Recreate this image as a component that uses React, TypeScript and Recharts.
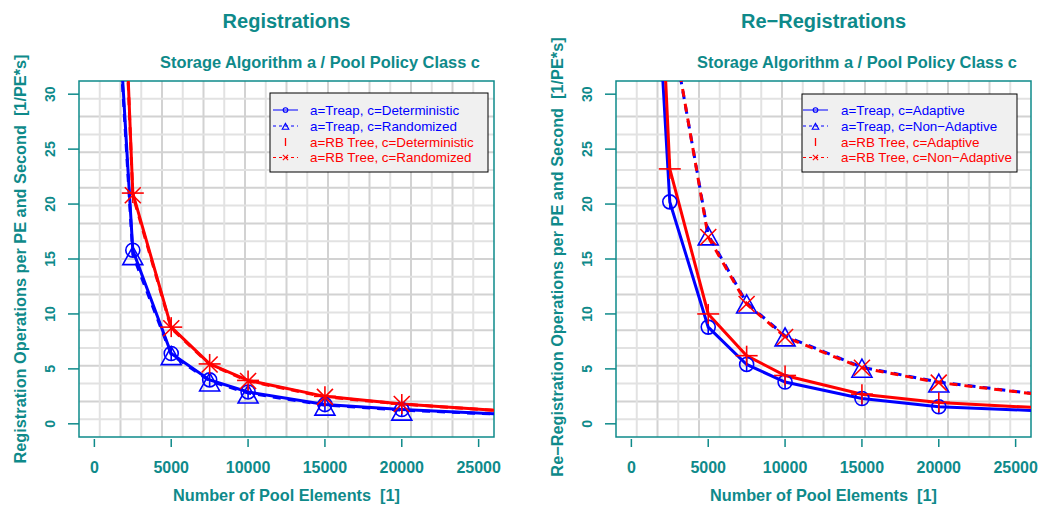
import React from 'react';
import { CartesianGrid, Line, LineChart, ReferenceArea, XAxis, YAxis } from 'recharts';

const TEAL = '#0e8a8a';
const BLUE = '#0000ff';
const RED = '#ff0000';
const FONT = '"Liberation Sans", Arial, Helvetica, sans-serif';

const POOL_ELEMENTS = [1000, 2500, 5000, 7500, 10000, 15000, 20000, 30000];
const MARKED_ELEMENTS = [2500, 5000, 7500, 10000, 15000, 20000];
const X_TICKS = [0, 5000, 10000, 15000, 20000, 25000];
const Y_TICKS = [0, 5, 10, 15, 20, 25, 30];
const X_DOMAIN: [number, number] = [-1000, 26000];
const Y_DOMAIN: [number, number] = [-1.2, 31.2];

// Registrations
const regTreapDeterministic = [51, 15.8, 6.4, 4.0, 2.9, 1.75, 1.3, 0.65];
const regTreapRandomized = [50, 15.4, 6.3, 3.9, 2.8, 1.7, 1.25, 0.65];
const regRBDeterministic = [73, 21.0, 8.8, 5.45, 3.95, 2.5, 1.8, 0.85];
const regRBRandomized = [72, 20.8, 8.7, 5.4, 3.9, 2.45, 1.8, 0.85];

// Re-Registrations
const reregTreapAdaptive = [57, 20.2, 8.8, 5.4, 3.8, 2.3, 1.55, 1.0];
const reregTreapNonAdaptive = [null, 37.0, 17.2, 11.0, 8.0, 5.15, 3.8, 2.1];
const reregRBAdaptive = [68, 23.2, 10.0, 6.2, 4.4, 2.7, 1.95, 1.2];
const reregRBNonAdaptive = [null, 37.2, 17.0, 10.9, 7.9, 5.1, 3.75, 2.1];

const REG_LABELS = [
  'a=Treap, c=Deterministic',
  'a=Treap, c=Randomized',
  'a=RB Tree, c=Deterministic',
  'a=RB Tree, c=Randomized',
];
const REREG_LABELS = [
  'a=Treap, c=Adaptive',
  'a=Treap, c=Non\u2212Adaptive',
  'a=RB Tree, c=Adaptive',
  'a=RB Tree, c=Non\u2212Adaptive',
];

type MarkerKind = 'circlePlus' | 'triangle' | 'plus' | 'cross';

type SeriesDef = {
  id: string;
  values: (number | null)[];
  color: string;
  dashed: boolean;
  marker: MarkerKind;
};

const PLOT = { left: 79, top: 81, width: 415, height: 356 };
const GRID_DIVISIONS = 20;

function gridLines(start: number, size: number, parity: number) {
  const out: number[] = [];
  for (let k = 1; k < GRID_DIVISIONS; k++) {
    if (k % 2 === parity) out.push(start + (k * size) / GRID_DIVISIONS);
  }
  return out;
}

function buildRows(series: SeriesDef[]) {
  return POOL_ELEMENTS.map((x, i) => {
    const row: Record<string, number | null> = { x };
    series.forEach((s) => {
      row[s.id] = s.values[i];
    });
    return row;
  });
}

function Marker({ kind, cx, cy, color, scale = 1 }: { kind: MarkerKind; cx: number; cy: number; color: string; scale?: number }) {
  const sw = scale === 1 ? 1.6 : 1.1;
  if (kind === 'circlePlus') {
    const r = 7 * scale;
    return (
      <g>
        <circle cx={cx} cy={cy} r={r} fill="none" stroke={color} strokeWidth={sw} />
        {scale === 1 && <line x1={cx} x2={cx} y1={cy - r} y2={cy + r} stroke={color} strokeWidth={sw} />}
      </g>
    );
  }
  if (kind === 'triangle') {
    const w = 10 * scale;
    return (
      <polygon
        points={`${cx},${cy - 8 * scale} ${cx - w},${cy + 10 * scale} ${cx + w},${cy + 10 * scale}`}
        fill="none"
        stroke={color}
        strokeWidth={sw}
      />
    );
  }
  if (kind === 'plus') {
    return (
      <g stroke={color} strokeWidth={sw}>
        <line x1={cx - 11 * scale} x2={cx + 11 * scale} y1={cy} y2={cy} />
        <line x1={cx} x2={cx} y1={cy - 10 * scale} y2={cy + 10 * scale} />
      </g>
    );
  }
  const d = 8 * scale;
  return (
    <g stroke={color} strokeWidth={sw}>
      <line x1={cx - d} x2={cx + d} y1={cy - d} y2={cy + d} />
      <line x1={cx - d} x2={cx + d} y1={cy + d} y2={cy - d} />
    </g>
  );
}

function XTick(props: any) {
  const { x, y, payload } = props;
  return (
    <g>
      <line x1={x} x2={x} y1={y + 2} y2={y + 10} stroke={TEAL} strokeWidth={1.5} />
      <text x={x} y={y + 36} textAnchor="middle" fill={TEAL} fontFamily={FONT} fontWeight="bold" fontSize={16}>
        {payload.value}
      </text>
    </g>
  );
}

function YTick(props: any) {
  const { x, y, payload } = props;
  return (
    <g>
      <line x1={x - 11} x2={x} y1={y} y2={y} stroke={TEAL} strokeWidth={1.5} />
      <text
        x={0}
        y={0}
        transform={`translate(${x - 24},${y}) rotate(-90)`}
        textAnchor="middle"
        fill={TEAL}
        fontFamily={FONT}
        fontWeight="bold"
        fontSize={14}
      >
        {payload.value}
      </text>
    </g>
  );
}

type LegendBox = { x: number; y: number; w: number; h: number; symX: number; textX: number };

function LegendOverlay({ box, labels, series }: { box: LegendBox; labels: string[]; series: SeriesDef[] }) {
  const rows = [110, 126, 142, 157.5];
  return (
    <g>
      <rect x={box.x} y={box.y} width={box.w} height={box.h} fill="#f0f0f0" stroke="#000" strokeWidth={1} />
      {series.map((s, i) => {
        const cy = rows[i];
        const x0 = box.symX;
        const x1 = box.symX + 25;
        const mid = (x0 + x1) / 2;
        return (
          <g key={s.id}>
            {s.marker !== 'plus' && (
              <line x1={x0} x2={x1} y1={cy} y2={cy} stroke={s.color} strokeWidth={1} strokeDasharray={s.dashed ? '3 3' : undefined} />
            )}
            {s.marker === 'plus' ? (
              <line x1={mid} x2={mid} y1={cy - 4} y2={cy + 4} stroke={s.color} strokeWidth={1.3} />
            ) : (
              <Marker kind={s.marker} cx={mid} cy={cy} color={s.color} scale={0.33} />
            )}
            <text x={box.textX} y={cy + 4.7} fill={s.color} fontFamily={FONT} fontSize={13.4}>
              {labels[i]}
            </text>
          </g>
        );
      })}
    </g>
  );
}

function Panel({
  left,
  width,
  title,
  yLabel,
  yLabelCenter,
  series,
  labels,
  legend,
}: {
  left: number;
  width: number;
  title: string;
  yLabel: string;
  yLabelCenter: number;
  series: SeriesDef[];
  labels: string[];
  legend: LegendBox;
}) {
  const rows = buildRows(series);
  const plotCenterX = PLOT.left + PLOT.width / 2;
  const renderDot = (s: SeriesDef) => (p: any) => {
    const key = `${s.id}-${p.index}`;
    if (p.cy == null || p.cx == null || !MARKED_ELEMENTS.includes(p.payload.x)) return <g key={key} />;
    return (
      <g key={key}>
        <Marker kind={s.marker} cx={p.cx} cy={p.cy} color={s.color} />
      </g>
    );
  };
  return (
    <div style={{ position: 'absolute', left, top: 0, width, height: 507 }}>
      <LineChart
        width={width}
        height={507}
        data={rows}
        margin={{ top: PLOT.top, right: width - PLOT.left - PLOT.width, bottom: 0, left: 0 }}
      >
        <CartesianGrid
          stroke="#d2d2d2"
          strokeWidth={2}
          verticalCoordinatesGenerator={() => gridLines(PLOT.left, PLOT.width, 0)}
          horizontalCoordinatesGenerator={() => gridLines(PLOT.top, PLOT.height, 0)}
        />
        <CartesianGrid
          stroke="#e2e2e2"
          strokeWidth={2}
          verticalCoordinatesGenerator={() => gridLines(PLOT.left, PLOT.width, 1)}
          horizontalCoordinatesGenerator={() => gridLines(PLOT.top, PLOT.height, 1)}
        />
        <XAxis
          dataKey="x"
          type="number"
          domain={X_DOMAIN}
          ticks={X_TICKS}
          allowDataOverflow
          axisLine={false}
          tickLine={false}
          tickSize={0}
          tickMargin={0}
          height={70}
          tick={<XTick />}
          interval={0}
        />
        <YAxis
          type="number"
          domain={Y_DOMAIN}
          ticks={Y_TICKS}
          allowDataOverflow
          axisLine={false}
          tickLine={false}
          tickSize={0}
          tickMargin={0}
          width={79}
          tick={<YTick />}
          interval={0}
        />
        {series.map((s) => (
          <Line
            key={s.id}
            type="linear"
            dataKey={s.id}
            stroke={s.color}
            strokeWidth={3}
            strokeDasharray={s.dashed ? '8 7' : undefined}
            dot={renderDot(s)}
            activeDot={false}
            isAnimationActive={false}
            connectNulls={false}
          />
        ))}
        <ReferenceArea
          x1={X_DOMAIN[0]}
          x2={X_DOMAIN[1]}
          y1={Y_DOMAIN[0]}
          y2={Y_DOMAIN[1]}
          fill="none"
          fillOpacity={0}
          stroke={TEAL}
          strokeWidth={1.5}
          ifOverflow="visible"
        />
      </LineChart>
      <svg width={width} height={507} style={{ position: 'absolute', left: 0, top: 0, pointerEvents: 'none' }}>
        <text x={plotCenterX} y={28} textAnchor="middle" fill={TEAL} fontFamily={FONT} fontWeight="bold" fontSize={20}>
          {title}
        </text>
        <text x={320} y={68} textAnchor="middle" fill={TEAL} fontFamily={FONT} fontWeight="bold" fontSize={16.4}>
          Storage Algorithm a / Pool Policy Class c
        </text>
        <text x={plotCenterX} y={501} textAnchor="middle" fill={TEAL} fontFamily={FONT} fontWeight="bold" fontSize={16.3} style={{ whiteSpace: 'pre' }}>
          {'Number of Pool Elements  [1]'}
        </text>
        <text
          x={0}
          y={0}
          transform={`translate(26,${yLabelCenter}) rotate(-90)`}
          textAnchor="middle"
          fill={TEAL}
          fontFamily={FONT}
          fontWeight="bold"
          fontSize={16.3}
          style={{ whiteSpace: 'pre' }}
        >
          {yLabel}
        </text>
        <LegendOverlay box={legend} labels={labels} series={series} />
      </svg>
    </div>
  );
}

const REG_SERIES: SeriesDef[] = [
  { id: 'treapDet', values: regTreapDeterministic, color: BLUE, dashed: false, marker: 'circlePlus' },
  { id: 'treapRnd', values: regTreapRandomized, color: BLUE, dashed: true, marker: 'triangle' },
  { id: 'rbDet', values: regRBDeterministic, color: RED, dashed: false, marker: 'plus' },
  { id: 'rbRnd', values: regRBRandomized, color: RED, dashed: true, marker: 'cross' },
];

const REREG_SERIES: SeriesDef[] = [
  { id: 'treapAd', values: reregTreapAdaptive, color: BLUE, dashed: false, marker: 'circlePlus' },
  { id: 'treapNonAd', values: reregTreapNonAdaptive, color: BLUE, dashed: true, marker: 'triangle' },
  { id: 'rbAd', values: reregRBAdaptive, color: RED, dashed: false, marker: 'plus' },
  { id: 'rbNonAd', values: reregRBNonAdaptive, color: RED, dashed: true, marker: 'cross' },
];

export default function App() {
  return (
    <div style={{ position: 'absolute', left: 0, top: 0, width: 1039, height: 507, background: '#fff', overflow: 'hidden' }}>
      <Panel
        left={0}
        width={537}
        title="Registrations"
        yLabel={'Registration Operations per PE and Second  [1/PE*s]'}
        yLabelCenter={259}
        series={REG_SERIES}
        labels={REG_LABELS}
        legend={{ x: 270, y: 93, w: 218, h: 79, symX: 273, textX: 310 }}
      />
      <Panel
        left={537}
        width={502}
        title={'Re\u2212Registrations'}
        yLabel={'Re\u2212Registration Operations per PE and Second  [1/PE*s]'}
        yLabelCenter={257}
        series={REREG_SERIES}
        labels={REREG_LABELS}
        legend={{ x: 265, y: 94, w: 215, h: 78, symX: 266, textX: 304 }}
      />
    </div>
  );
}
